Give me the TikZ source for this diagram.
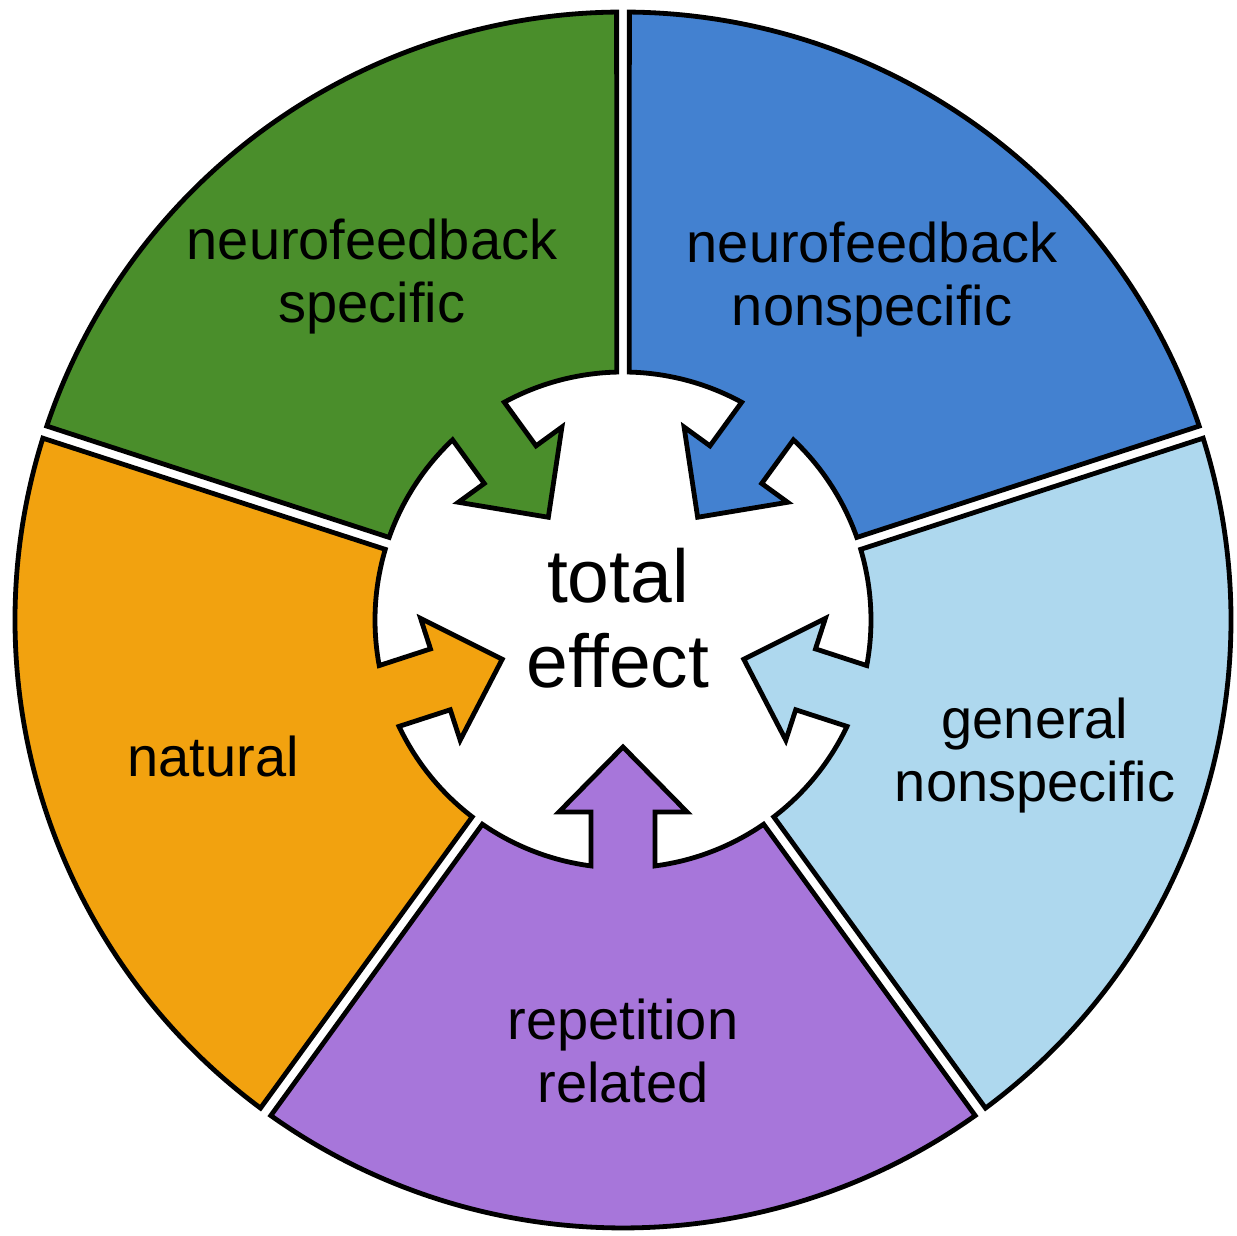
\documentclass[tikz,border=0pt]{standalone}
\usepackage{fontspec}
\setmainfont{Liberation Sans}
\usetikzlibrary{calc}

\definecolor{nfspec}{RGB}{74,142,43}
\definecolor{nfnon}{RGB}{67,129,208}
\definecolor{gennon}{RGB}{174,216,238}
\definecolor{repet}{RGB}{167,118,218}
\definecolor{natur}{RGB}{242,162,15}

\begin{document}
\begin{tikzpicture}[x=0.5pt, y=0.5pt,
  sector/.style={draw=black, line width=2.4pt, line join=miter, fill=#1},
  label/.style={font=\fontsize{28}{31.5}\selectfont, align=center, inner sep=0pt},
  bigl/.style={font=\fontsize{37.5}{42.5}\selectfont, align=center, inner sep=0pt}]

  \useasboundingbox (-623,-616) rectangle (614,620);

  % radii of the ring and of the arrows
  \def\Rout{608}  \def\Rin{248}
  \def\Rbase{192} \def\Rtip{127}
  \def\shaft{32}  \def\head{64}
  % angle offsets for the white gaps and the shaft
  \def\dout{0.6} \def\din{1.45} \def\sig{7.41}

  %% five sectors, each with an arrow into the middle
  \foreach \m/\col in {126/nfspec, 198/natur, 270/repet, 342/gennon, 54/nfnon} {
    \draw[sector=\col]
      (\m-36+\dout:\Rout) arc[start angle=\m-36+\dout, end angle=\m+36-\dout, radius=\Rout]
      -- (\m+36-\din:\Rin) arc[start angle=\m+36-\din, end angle=\m+\sig, radius=\Rin]
      -- ($(\m:\Rbase)+(\m+90:\shaft)$) -- ($(\m:\Rbase)+(\m+90:\head)$)
      -- (\m:\Rtip)
      -- ($(\m:\Rbase)+(\m-90:\head)$) -- ($(\m:\Rbase)+(\m-90:\shaft)$)
      -- (\m-\sig:\Rin) arc[start angle=\m-\sig, end angle=\m-36+\din, radius=\Rin]
      -- cycle;
  }

  %% labels
  \node[label] (spec)  at (-251,343)  {neurofeedback\\specific};
  \node[label] (nonsp) at (249,340)   {neurofeedback\\nonspecific};
  \node[label] (gen)   at (412,-136)  {general\\nonspecific};
  \node[label] (rep)   at (0,-431)    {repetition\\related};
  \node[label] (nat)   at (-410,-136) {natural};
  \node[bigl]  (total) at (-5,2)      {total\\effect};
\end{tikzpicture}
\end{document}
